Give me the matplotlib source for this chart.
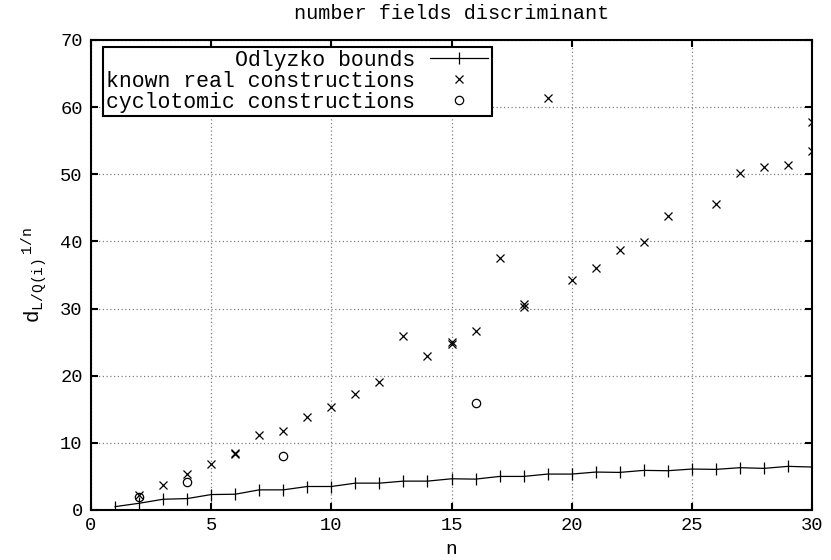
import numpy as np
import matplotlib
matplotlib.use("Agg")
import matplotlib.pyplot as plt

plt.rcParams['font.family'] = ['Liberation Mono', 'DejaVu Sans Mono']
plt.rcParams['mathtext.fontset'] = 'custom'
plt.rcParams['mathtext.rm'] = 'Liberation Mono'
plt.rcParams['mathtext.it'] = 'Liberation Mono'

# Odlyzko lower bounds
odl_n = list(range(1, 31))
odl_d = [0.5, 1.0, 1.6, 1.7, 2.3, 2.35, 3.0, 3.0, 3.5, 3.5,
         4.0, 4.0, 4.3, 4.3, 4.65, 4.6, 5.0, 5.0, 5.35, 5.35,
         5.65, 5.6, 5.9, 5.85, 6.1, 6.05, 6.3, 6.2, 6.5, 6.4]

# known real constructions
real_n = [2, 3, 4, 5, 6, 6, 7, 8, 9, 10, 11, 12, 13, 14, 15, 15, 16, 17,
          18, 18, 19, 20, 21, 22, 23, 24, 26, 27, 28, 29, 30, 30]
real_d = [2.3, 3.7, 5.3, 6.9, 8.3, 8.5, 11.2, 11.7, 13.8, 15.4, 17.3, 19.0,
          25.9, 22.9, 24.7, 25.0, 26.7, 37.5, 30.3, 30.7, 61.3, 34.2, 36.0,
          38.7, 39.9, 43.8, 45.6, 50.2, 51.1, 51.4, 53.4, 57.8]

# cyclotomic constructions
cyc_n = [2, 4, 8, 16]
cyc_d = [2.0, 4.1, 8.1, 16.0]

fig = plt.figure(figsize=(8.31, 5.6), dpi=100)
ax = fig.add_axes([91 / 831, 50 / 560, 721 / 831, 470 / 560])

ax.plot(odl_n, odl_d, color='black', lw=0.9, marker='|', ms=8, mew=0.9,
        label='Odlyzko bounds')
ax.plot(real_n, real_d, ls='none', color='black', marker='x', ms=6, mew=0.9,
        label='known real constructions')
ax.plot(cyc_n, cyc_d, ls='none', color='black', marker='o', ms=6, mew=0.9,
        mfc='none', label='cyclotomic constructions')

ax.set_xlim(0, 30)
ax.set_ylim(0, 70)
ax.set_xticks(np.arange(0, 31, 5))
ax.set_yticks(np.arange(0, 71, 10))
ax.tick_params(direction='in', length=5, width=1.5, labelsize=13.5,
               top=True, right=True)
ax.tick_params(axis='y', pad=6)
ax.tick_params(axis='x', pad=5)
for s in ax.spines.values():
    s.set_linewidth(1.5)
ax.grid(True, color='#808080', linestyle=(0, (1, 2)), linewidth=0.9)
ax.set_axisbelow(True)

ax.set_title('number fields discriminant', fontsize=14.5, pad=15)
ax.set_xlabel('n', fontsize=14, labelpad=5)
ax.set_ylabel(r'$\mathrm{d}_{\mathrm{L/Q(i)}}{}^{\ \mathrm{1/n}}$',
              fontsize=15, labelpad=8)

leg = ax.legend(loc='upper left', bbox_to_anchor=(0.0166, 0.986),
                borderaxespad=0, markerfirst=False, fontsize=15.5,
                labelspacing=0.0, handlelength=2.7, handletextpad=0.7,
                borderpad=0.15, fancybox=False, framealpha=1,
                edgecolor='black')
leg.get_frame().set_linewidth(1.5)

fig.savefig('out.png', dpi=100)
